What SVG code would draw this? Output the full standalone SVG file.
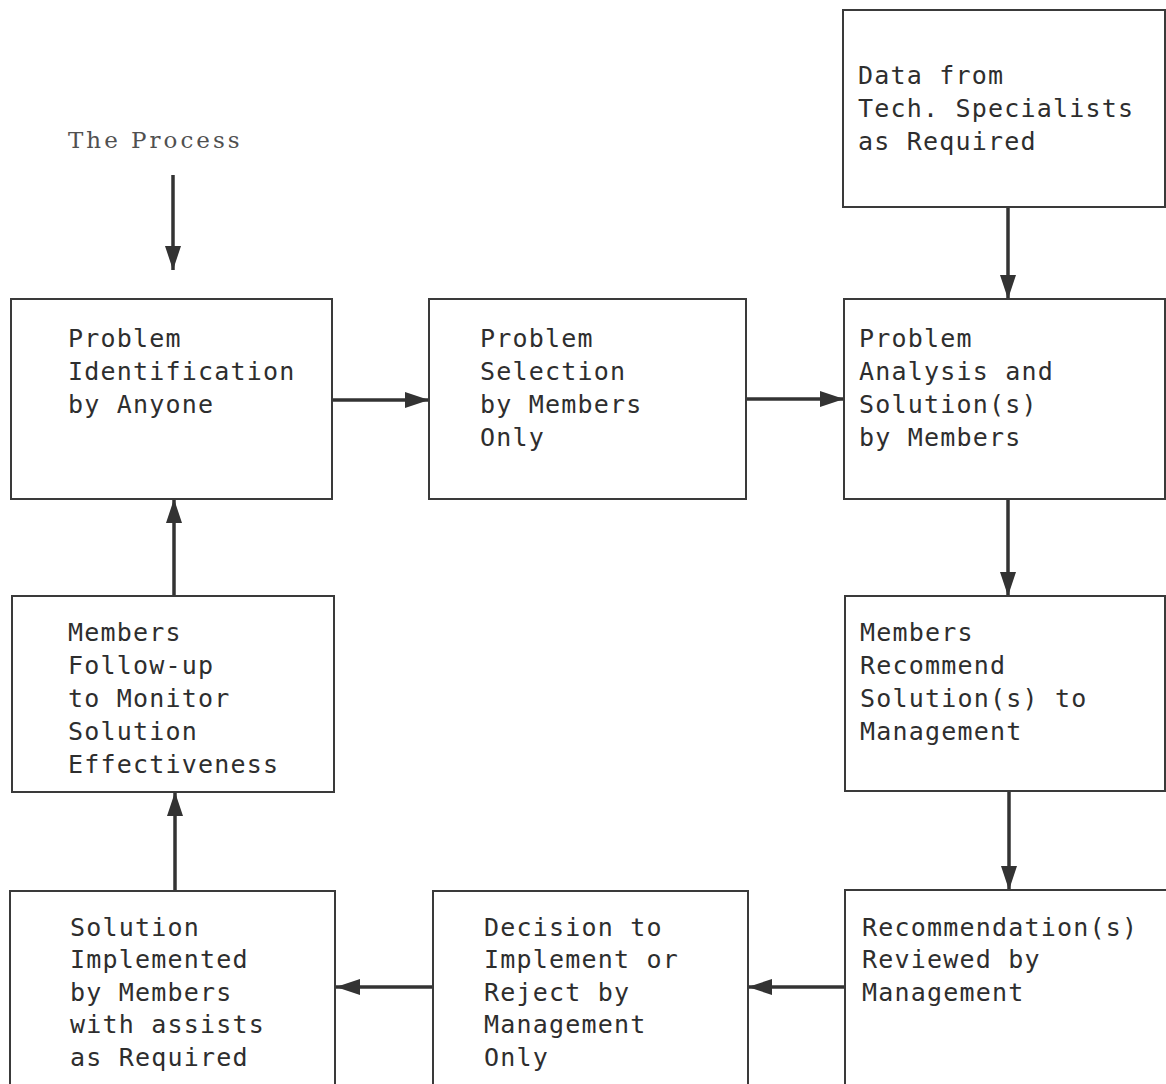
<svg xmlns="http://www.w3.org/2000/svg" width="1166" height="1084" viewBox="0 0 1166 1084">
<style>
.box{fill:#fff;stroke:#3a3a3a;stroke-width:2}
.t{font-family:"DejaVu Sans Mono","Liberation Mono",monospace;font-size:25px;letter-spacing:1.2px;fill:#2e2e2e}
.title{font-family:"DejaVu Serif","Liberation Serif",serif;font-size:23px;letter-spacing:3px;fill:#505050}
.c{stroke:#333;stroke-width:3.5;fill:none;marker-end:url(#ah)}
</style>
<defs>
<marker id="ah" markerUnits="userSpaceOnUse" markerWidth="24" markerHeight="16" refX="24" refY="8" orient="auto">
<path d="M0,0 L24,8 L0,16 z" fill="#333"/>
</marker>
</defs>
<rect width="1166" height="1084" fill="#fff"/>
<text class="title" x="68" y="148">The Process</text>
<g id="connectors">
<line class="c" x1="173" y1="175" x2="173" y2="270"/>
<line class="c" x1="1008" y1="207" x2="1008" y2="299"/>
<line class="c" x1="332" y1="400" x2="429" y2="400"/>
<line class="c" x1="746" y1="399" x2="844" y2="399"/>
<line class="c" x1="1008" y1="499" x2="1008" y2="596"/>
<line class="c" x1="1009" y1="791" x2="1009" y2="890"/>
<line class="c" x1="845" y1="987" x2="748" y2="987"/>
<line class="c" x1="433" y1="987" x2="336" y2="987"/>
<line class="c" x1="175" y1="891" x2="175" y2="792"/>
<line class="c" x1="174" y1="596" x2="174" y2="499"/>
</g>
<g id="data">
<rect class="box" x="843" y="10" width="322" height="197"/>
<text class="t" x="858" y="84">Data from</text>
<text class="t" x="858" y="117">Tech. Specialists</text>
<text class="t" x="858" y="150">as Required</text>
</g>
<g id="identification">
<rect class="box" x="11" y="299" width="321" height="200"/>
<text class="t" x="68" y="347">Problem</text>
<text class="t" x="68" y="380">Identification</text>
<text class="t" x="68" y="413">by Anyone</text>
</g>
<g id="selection">
<rect class="box" x="429" y="299" width="317" height="200"/>
<text class="t" x="480" y="347">Problem</text>
<text class="t" x="480" y="380">Selection</text>
<text class="t" x="480" y="413">by Members</text>
<text class="t" x="480" y="446">Only</text>
</g>
<g id="analysis">
<rect class="box" x="844" y="299" width="321" height="200"/>
<text class="t" x="859" y="347">Problem</text>
<text class="t" x="859" y="380">Analysis and</text>
<text class="t" x="859" y="413">Solution(s)</text>
<text class="t" x="859" y="446">by Members</text>
</g>
<g id="recommend">
<rect class="box" x="845" y="596" width="320" height="195"/>
<text class="t" x="860" y="641">Members</text>
<text class="t" x="860" y="674">Recommend</text>
<text class="t" x="860" y="707">Solution(s) to</text>
<text class="t" x="860" y="740">Management</text>
</g>
<g id="reviewed">
<rect class="box" x="845" y="890" width="325" height="200"/>
<text class="t" x="862" y="936">Recommendation(s)</text>
<text class="t" x="862" y="968">Reviewed by</text>
<text class="t" x="862" y="1001">Management</text>
</g>
<g id="decision">
<rect class="box" x="433" y="891" width="315" height="200"/>
<text class="t" x="484" y="936">Decision to</text>
<text class="t" x="484" y="968">Implement or</text>
<text class="t" x="484" y="1001">Reject by</text>
<text class="t" x="484" y="1033">Management</text>
<text class="t" x="484" y="1066">Only</text>
</g>
<g id="implemented">
<rect class="box" x="10" y="891" width="325" height="200"/>
<text class="t" x="70" y="936">Solution</text>
<text class="t" x="70" y="968">Implemented</text>
<text class="t" x="70" y="1001">by Members</text>
<text class="t" x="70" y="1033">with assists</text>
<text class="t" x="70" y="1066">as Required</text>
</g>
<g id="followup">
<rect class="box" x="12" y="596" width="322" height="196"/>
<text class="t" x="68" y="641">Members</text>
<text class="t" x="68" y="674">Follow-up</text>
<text class="t" x="68" y="707">to Monitor</text>
<text class="t" x="68" y="740">Solution</text>
<text class="t" x="68" y="773">Effectiveness</text>
</g>
</svg>
